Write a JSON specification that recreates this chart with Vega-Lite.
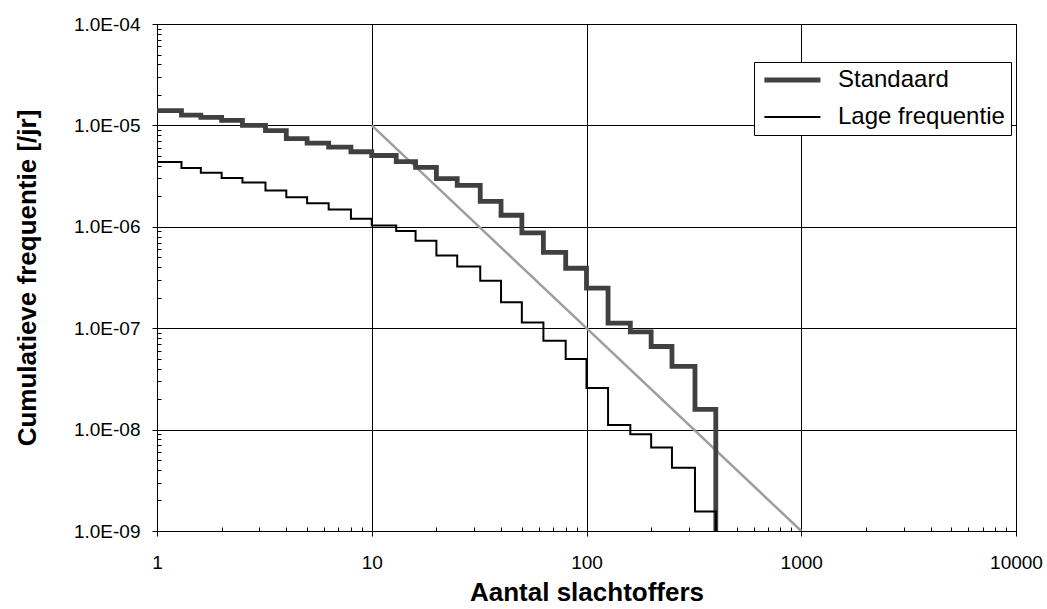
{
  "$schema": "https://vega.github.io/schema/vega-lite/v6.json",
  "width": 859,
  "height": 507,
  "autosize": "none",
  "padding": {"left": 157, "top": 24, "right": 31, "bottom": 78},
  "background": "white",
  "config": {
    "font": "Liberation Sans",
    "view": {"stroke": "black", "strokeWidth": 1}
  },
  "datasets": {
    "steps": [
      {"series": "Standaard", "x": 1, "y": 1.40e-5},
      {"series": "Standaard", "x": 1.3, "y": 1.26e-5},
      {"series": "Standaard", "x": 1.6, "y": 1.20e-5},
      {"series": "Standaard", "x": 2, "y": 1.12e-5},
      {"series": "Standaard", "x": 2.5, "y": 1.0e-5},
      {"series": "Standaard", "x": 3.2, "y": 8.9e-6},
      {"series": "Standaard", "x": 4, "y": 7.4e-6},
      {"series": "Standaard", "x": 5, "y": 6.7e-6},
      {"series": "Standaard", "x": 6.3, "y": 6.1e-6},
      {"series": "Standaard", "x": 8, "y": 5.5e-6},
      {"series": "Standaard", "x": 10, "y": 5.05e-6},
      {"series": "Standaard", "x": 13, "y": 4.4e-6},
      {"series": "Standaard", "x": 16, "y": 3.86e-6},
      {"series": "Standaard", "x": 20, "y": 2.99e-6},
      {"series": "Standaard", "x": 25, "y": 2.56e-6},
      {"series": "Standaard", "x": 32, "y": 1.78e-6},
      {"series": "Standaard", "x": 40, "y": 1.30e-6},
      {"series": "Standaard", "x": 50, "y": 8.7e-7},
      {"series": "Standaard", "x": 63, "y": 5.6e-7},
      {"series": "Standaard", "x": 80, "y": 3.9e-7},
      {"series": "Standaard", "x": 100, "y": 2.48e-7},
      {"series": "Standaard", "x": 126, "y": 1.12e-7},
      {"series": "Standaard", "x": 160, "y": 9.2e-8},
      {"series": "Standaard", "x": 200, "y": 6.6e-8},
      {"series": "Standaard", "x": 250, "y": 4.2e-8},
      {"series": "Standaard", "x": 320, "y": 1.58e-8},
      {"series": "Standaard", "x": 400, "y": 1.0e-9},
      {"series": "Lage frequentie", "x": 1, "y": 4.36e-6},
      {"series": "Lage frequentie", "x": 1.3, "y": 3.80e-6},
      {"series": "Lage frequentie", "x": 1.6, "y": 3.42e-6},
      {"series": "Lage frequentie", "x": 2, "y": 3.03e-6},
      {"series": "Lage frequentie", "x": 2.5, "y": 2.73e-6},
      {"series": "Lage frequentie", "x": 3.2, "y": 2.28e-6},
      {"series": "Lage frequentie", "x": 4, "y": 1.96e-6},
      {"series": "Lage frequentie", "x": 5, "y": 1.71e-6},
      {"series": "Lage frequentie", "x": 6.3, "y": 1.48e-6},
      {"series": "Lage frequentie", "x": 8, "y": 1.20e-6},
      {"series": "Lage frequentie", "x": 10, "y": 1.03e-6},
      {"series": "Lage frequentie", "x": 13, "y": 9.1e-7},
      {"series": "Lage frequentie", "x": 16, "y": 7.3e-7},
      {"series": "Lage frequentie", "x": 20, "y": 5.2e-7},
      {"series": "Lage frequentie", "x": 25, "y": 4.06e-7},
      {"series": "Lage frequentie", "x": 32, "y": 2.93e-7},
      {"series": "Lage frequentie", "x": 40, "y": 1.80e-7},
      {"series": "Lage frequentie", "x": 50, "y": 1.14e-7},
      {"series": "Lage frequentie", "x": 63, "y": 7.5e-8},
      {"series": "Lage frequentie", "x": 80, "y": 4.97e-8},
      {"series": "Lage frequentie", "x": 100, "y": 2.57e-8},
      {"series": "Lage frequentie", "x": 126, "y": 1.11e-8},
      {"series": "Lage frequentie", "x": 160, "y": 9.0e-9},
      {"series": "Lage frequentie", "x": 200, "y": 6.65e-9},
      {"series": "Lage frequentie", "x": 250, "y": 4.2e-9},
      {"series": "Lage frequentie", "x": 320, "y": 1.56e-9},
      {"series": "Lage frequentie", "x": 400, "y": 1.0e-9}
    ],
    "norm": [
      {"x": 10, "y": 1e-5},
      {"x": 1000, "y": 1e-9}
    ]
  },
  "layer": [
    {
      "data": {"name": "norm"},
      "mark": {"type": "line", "color": "#9e9e9e", "strokeWidth": 2.5, "clip": true},
      "encoding": {
        "x": {"field": "x", "type": "quantitative"},
        "y": {"field": "y", "type": "quantitative"}
      }
    },
    {
      "data": {"name": "steps"},
      "mark": {"type": "line", "interpolate": "step-after", "clip": true},
      "encoding": {
        "x": {
          "field": "x",
          "type": "quantitative",
          "scale": {"type": "log", "domain": [1, 10000], "nice": false},
          "axis": {
            "values": [1,2,3,4,5,6,7,8,9,10,20,30,40,50,60,70,80,90,100,200,300,400,500,600,700,800,900,1000,2000,3000,4000,5000,6000,7000,8000,9000,10000],
            "title": "Aantal slachtoffers",
            "titleFontSize": 26,
            "titleFontWeight": "bold",
            "titleColor": "black",
            "titlePadding": 7,
            "labelFontSize": 19,
            "labelColor": "black",
            "labelPadding": 17,
            "labelOverlap": false,
            "labelFlush": false,
            "labelBound": false,
            "labelExpr": "abs(log(datum.value)/LN10 - round(log(datum.value)/LN10)) < 0.001 ? format(datum.value, 'd') : ''",
            "domainColor": "black",
            "tickColor": "black",
            "tickSize": {"condition": {"test": "abs(log(datum.value)/LN10 - round(log(datum.value)/LN10)) < 0.001", "value": 5}, "value": -4},
            "grid": true,
            "gridColor": "black",
            "gridWidth": 1,
            "gridOpacity": {"condition": {"test": "abs(log(datum.value)/LN10 - round(log(datum.value)/LN10)) < 0.001", "value": 1}, "value": 0}
          }
        },
        "y": {
          "field": "y",
          "type": "quantitative",
          "scale": {"type": "log", "domain": [1e-9, 1e-4], "nice": false},
          "axis": {
            "values": [1e-9,2e-9,3e-9,4e-9,5e-9,6e-9,7e-9,8e-9,9e-9,1e-8,2e-8,3e-8,4e-8,5e-8,6e-8,7e-8,8e-8,9e-8,1e-7,2e-7,3e-7,4e-7,5e-7,6e-7,7e-7,8e-7,9e-7,1e-6,2e-6,3e-6,4e-6,5e-6,6e-6,7e-6,8e-6,9e-6,1e-5,2e-5,3e-5,4e-5,5e-5,6e-5,7e-5,8e-5,9e-5,1e-4],
            "title": "Cumulatieve frequentie [/jr]",
            "titleFontSize": 26,
            "titleFontWeight": "bold",
            "titleColor": "black",
            "titlePadding": 33,
            "labelFontSize": 19,
            "labelColor": "black",
            "labelPadding": 12,
            "labelOverlap": false,
            "labelFlush": false,
            "labelBound": false,
            "labelExpr": "abs(log(datum.value)/LN10 - round(log(datum.value)/LN10)) < 0.001 ? '1.0E-0' + (-round(log(datum.value)/LN10)) : ''",
            "domainColor": "black",
            "tickColor": "black",
            "tickSize": {"condition": {"test": "abs(log(datum.value)/LN10 - round(log(datum.value)/LN10)) < 0.001", "value": 5}, "value": -4},
            "grid": true,
            "gridColor": "black",
            "gridWidth": 1,
            "gridOpacity": {"condition": {"test": "abs(log(datum.value)/LN10 - round(log(datum.value)/LN10)) < 0.001", "value": 1}, "value": 0}
          }
        },
        "color": {
          "field": "series",
          "type": "nominal",
          "scale": {"domain": ["Standaard", "Lage frequentie"], "range": ["#404040", "#000000"]},
          "legend": {
            "title": null,
            "orient": "none",
            "legendX": 597,
            "legendY": 38,
            "padding": 6,
            "strokeColor": "black",
            "fillColor": "white",
            "labelFontSize": 24,
            "labelColor": "black",
            "labelOffset": 54,
            "symbolType": "M-0.8,0H5.1",
            "symbolSize": 361,
            "rowPadding": 13,
            "labelLimit": 300
          }
        },
        "strokeWidth": {
          "field": "series",
          "type": "ordinal",
          "scale": {"domain": ["Standaard", "Lage frequentie"], "range": [4.8, 2]},
          "legend": {
            "title": null,
            "orient": "none",
            "legendX": 597,
            "legendY": 38,
            "padding": 6,
            "strokeColor": "black",
            "fillColor": "white",
            "labelFontSize": 24,
            "labelColor": "black",
            "labelOffset": 54,
            "symbolType": "M-0.8,0H5.1",
            "symbolSize": 361,
            "rowPadding": 13,
            "labelLimit": 300
          }
        }
      }
    }
  ]
}
